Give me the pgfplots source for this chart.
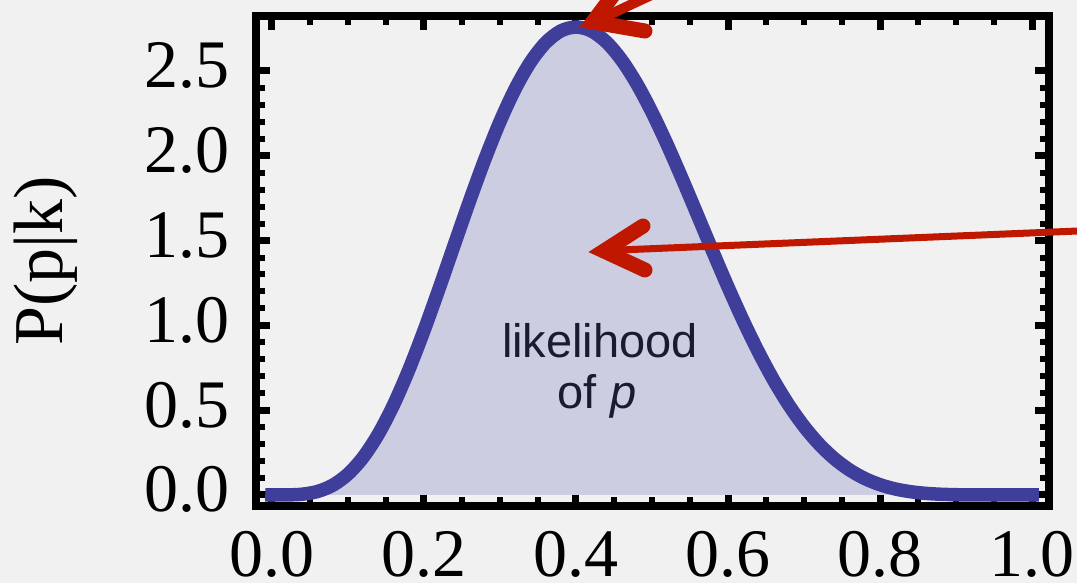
\documentclass[border=0pt]{standalone}
\usepackage{pgfplots}
\pgfplotsset{compat=1.18}
\usepackage{fontspec}
\setmainfont{Liberation Serif}
\newfontfamily\sansf{Liberation Sans}
\definecolor{bgc}{HTML}{F1F1F1}
\definecolor{fillc}{HTML}{CDCDE1}
\definecolor{linec}{HTML}{3F3F9B}
\definecolor{redc}{HTML}{C01800}
\definecolor{textc}{HTML}{1A1A33}
\begin{document}
\begin{tikzpicture}[x=1pt,y=1pt]
\fill[bgc] (0,0) rectangle (1077,583);
\begin{axis}[
  at={(256pt,77pt)}, anchor=south west,
  scale only axis, width=793pt, height=490pt,
  xmin=-0.02105, xmax=1.02237, ymin=-0.065, ymax=2.824,
  axis line style={line width=8pt},
  tick pos=both, tick align=inside,
  xtick={0,0.2,0.4,0.6,0.8,1.0}, ytick={0,0.5,1.0,1.5,2.0,2.5},
  minor x tick num=3, minor y tick num=4,
  major tick length=14pt, minor tick length=9pt,
  every major tick/.append style={line width=7pt, black},
  every minor tick/.append style={line width=6pt, black},
  /pgf/number format/.cd, fixed, fixed zerofill, precision=1, assume math mode=true,
  /pgfplots/.cd,
  ticklabel style={font=\fontsize{68}{80}\selectfont, inner sep=0pt},
  xticklabel style={anchor=base, yshift=-71pt},
  yticklabel style={anchor=base east, xshift=-26pt, yshift=-17pt},
  ylabel={P(p|k)},
  ylabel style={font=\fontsize{70}{84}\selectfont, inner sep=0pt, at={(axis description cs:-0.2434,0.5)}, anchor=base},
]
\addplot[fill=fillc, draw=none, smooth] coordinates {
(0,0) (0.02,0.000327) (0.04,0.00463) (0.06,0.02065) (0.08,0.0574) (0.10,0.1228)
(0.12,0.2224) (0.14,0.3590) (0.16,0.5318) (0.18,0.7372) (0.20,0.9689)
(0.22,1.2187) (0.24,1.4769) (0.26,1.7334) (0.28,1.9781) (0.30,2.2013)
(0.32,2.3948) (0.34,2.5515) (0.36,2.6663) (0.38,2.7359) (0.40,2.7589)
(0.42,2.7364) (0.44,2.6702) (0.46,2.5645) (0.48,2.4244) (0.50,2.2559)
(0.52,2.0658) (0.54,1.8610) (0.56,1.6485) (0.58,1.4349) (0.60,1.2262)
(0.62,1.0277) (0.64,0.8436) (0.66,0.6771) (0.68,0.5303) (0.70,0.4043)
(0.72,0.2991) (0.74,0.2140) (0.76,0.1473) (0.78,0.0969) (0.80,0.0606)
(0.82,0.0355) (0.84,0.0193) (0.86,0.00951) (0.88,0.00414) (0.90,0.00152)
(0.92,0.000434) (0.94,0.000084) (0.96,0.00001) (0.98,0) (1.0,0)
} \closedcycle;
\addplot[draw=linec, line width=13.5pt, line cap=rect, line join=round, smooth] coordinates {
(0,0) (0.02,0.000327) (0.04,0.00463) (0.06,0.02065) (0.08,0.0574) (0.10,0.1228)
(0.12,0.2224) (0.14,0.3590) (0.16,0.5318) (0.18,0.7372) (0.20,0.9689)
(0.22,1.2187) (0.24,1.4769) (0.26,1.7334) (0.28,1.9781) (0.30,2.2013)
(0.32,2.3948) (0.34,2.5515) (0.36,2.6663) (0.38,2.7359) (0.40,2.7589)
(0.42,2.7364) (0.44,2.6702) (0.46,2.5645) (0.48,2.4244) (0.50,2.2559)
(0.52,2.0658) (0.54,1.8610) (0.56,1.6485) (0.58,1.4349) (0.60,1.2262)
(0.62,1.0277) (0.64,0.8436) (0.66,0.6771) (0.68,0.5303) (0.70,0.4043)
(0.72,0.2991) (0.74,0.2140) (0.76,0.1473) (0.78,0.0969) (0.80,0.0606)
(0.82,0.0355) (0.84,0.0193) (0.86,0.00951) (0.88,0.00414) (0.90,0.00152)
(0.92,0.000434) (0.94,0.000084) (0.96,0.00001) (0.98,0) (1.0,0)
};
\end{axis}
% annotation text
\node[anchor=base, inner sep=0pt, text=textc, font=\sansf\fontsize{47}{56}\selectfont] at (600,225) {likelihood};
\node[anchor=base, inner sep=0pt, text=textc, font=\sansf\fontsize{47}{56}\selectfont] at (597,174) {of \textit{p}};
% arrows
\draw[redc, line width=7pt] (1090,352.5) -- (596,332);
\draw[redc, line width=15pt, line cap=round, line join=miter, miter limit=10] (643,357) -- (604,332) -- (645,313);
\draw[redc, line width=10pt] (596,562) -- (865,688);
\draw[redc, line width=15pt, line cap=round, line join=miter, miter limit=10] (645,552) -- (593,561) -- (626,605);
\pgfresetboundingbox
\path[use as bounding box] (0,0) rectangle (1077,583);
\end{tikzpicture}
\end{document}
